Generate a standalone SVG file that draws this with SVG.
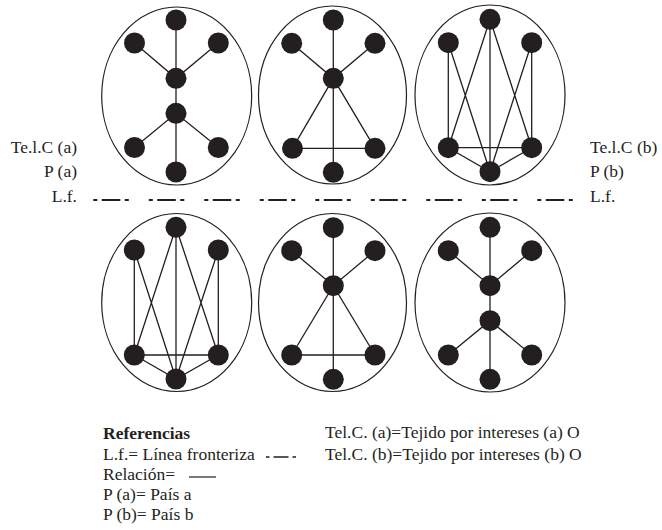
<svg xmlns="http://www.w3.org/2000/svg" width="662" height="530" viewBox="0 0 662 530">
<style>
.bg{fill:#fff}
.ell{fill:none;stroke:#231f20;stroke-width:1.2}
.n{fill:#231f20}
.e{stroke:#231f20;stroke-width:1.3;fill:none}
.lf{stroke:#231f20;stroke-width:2;fill:none;stroke-dasharray:4 4.5 18.5 4.5 4 20}
.t{font-family:"Liberation Serif","Times New Roman",serif;font-size:17.5px;fill:#231f20}
.b{font-weight:bold}
</style>
<defs>
<circle id="dot" r="10.5" class="n"/>
</defs>
<rect class="bg" width="662" height="530"/>

<!-- clusters (ellipses) -->
<g id="cluster-a1"><ellipse class="ell" cx="176.7" cy="96" rx="75" ry="89"/></g>
<g id="cluster-a2"><ellipse class="ell" cx="332.5" cy="95" rx="74" ry="89"/></g>
<g id="cluster-a3"><ellipse class="ell" cx="490" cy="95" rx="75" ry="90"/></g>
<g id="cluster-b1"><ellipse class="ell" cx="176.7" cy="302.5" rx="75" ry="89"/></g>
<g id="cluster-b2"><ellipse class="ell" cx="332.5" cy="302.5" rx="74" ry="89"/></g>
<g id="cluster-b3"><ellipse class="ell" cx="490" cy="302.5" rx="75" ry="89.5"/></g>

<g id="connectors">
<!-- a1 tree -->
<path class="e" d="M176 20V113.3M134.5 43L176 78.3L218.3 43M134.5 147.5L176 113.3L218.3 147.5M176 113.3V172"/>
<!-- a2 -->
<path class="e" d="M333.3 20V172M291.7 43.3L333.3 78.3L375 43.3M292.5 148.3L333.3 78.3L375 148.3M292.5 148.3H375"/>
<!-- a3 -->
<path class="e" d="M448.3 42.7V147.7M531.7 42.7V147.7M490 19.3L448.3 147.7M490 19.3V171.7M490 19.3L531.7 147.7M448.3 42.7L490 171.7M531.7 42.7L490 171.7M448.3 147.7H531.7M448.3 147.7L490 171.7L531.7 147.7"/>
<!-- b1 -->
<path class="e" d="M134.3 250V355M218.3 250V355M176 227.3L134.3 355M176 227.3V379M176 227.3L218.3 355M134.3 250L176 379M218.3 250L176 379M134.3 355H218.3M134.3 355L176 379L218.3 355"/>
<!-- b2 -->
<path class="e" d="M333.3 227.7V379.3M291.7 250.7L333.3 285.7L375 250.7M291.7 355L333.3 285.7L375 355M291.7 355H375"/>
<!-- b3 tree -->
<path class="e" d="M490 227.3V320.7M448.3 250.7L490 285.7L531.7 250.7M448.3 355L490 320.7L531.7 355M490 320.7V379.3"/>
<!-- border line -->
<path class="lf" d="M93.3 200H574"/>
</g>

<g id="nodes-a1">
<use href="#dot" x="176" y="20"/><use href="#dot" x="134.5" y="43"/><use href="#dot" x="218.3" y="43"/>
<use href="#dot" x="176" y="78.3"/><use href="#dot" x="176" y="113.3"/>
<use href="#dot" x="134.5" y="147.5"/><use href="#dot" x="218.3" y="147.5"/><use href="#dot" x="176" y="172"/>
</g>
<g id="nodes-a2">
<use href="#dot" x="333.3" y="20"/><use href="#dot" x="291.7" y="43.3"/><use href="#dot" x="375" y="43.3"/>
<use href="#dot" x="333.3" y="78.3"/>
<use href="#dot" x="292.5" y="148.3"/><use href="#dot" x="375" y="148.3"/><use href="#dot" x="333.3" y="172.3"/>
</g>
<g id="nodes-a3">
<use href="#dot" x="490" y="19.3"/><use href="#dot" x="448.3" y="42.7"/><use href="#dot" x="531.7" y="42.7"/>
<use href="#dot" x="448.3" y="147.7"/><use href="#dot" x="531.7" y="147.7"/><use href="#dot" x="490" y="171.7"/>
</g>
<g id="nodes-b1">
<use href="#dot" x="176" y="227.3"/><use href="#dot" x="134.3" y="250"/><use href="#dot" x="218.3" y="250"/>
<use href="#dot" x="134.3" y="355"/><use href="#dot" x="218.3" y="355"/><use href="#dot" x="176" y="379"/>
</g>
<g id="nodes-b2">
<use href="#dot" x="333.3" y="227.7"/><use href="#dot" x="291.7" y="250.7"/><use href="#dot" x="375" y="250.7"/>
<use href="#dot" x="333.3" y="285.7"/>
<use href="#dot" x="291.7" y="355"/><use href="#dot" x="375" y="355"/><use href="#dot" x="333.3" y="379.3"/>
</g>
<g id="nodes-b3">
<use href="#dot" x="490" y="227.3"/><use href="#dot" x="448.3" y="250.7"/><use href="#dot" x="531.7" y="250.7"/>
<use href="#dot" x="490" y="285.7"/><use href="#dot" x="490" y="320.7"/>
<use href="#dot" x="448.3" y="355"/><use href="#dot" x="531.7" y="355"/><use href="#dot" x="490" y="379.3"/>
</g>

<g id="labels-left" class="t" text-anchor="end">
<text x="77" y="153">Te.l.C (a)</text>
<text x="77" y="177">P (a)</text>
<text x="77" y="202">L.f.</text>
</g>
<g id="labels-right" class="t">
<text x="590" y="153">Te.l.C (b)</text>
<text x="590" y="177">P (b)</text>
<text x="590" y="202">L.f.</text>
</g>

<g id="legend" class="t">
<text class="b" x="103" y="439">Referencias</text>
<text x="103" y="460">L.f.= Línea fronteriza</text>
<path d="M266 457H297" style="stroke:#231f20;stroke-width:1.6;fill:none;stroke-dasharray:3.5 4 15 4 3.5"/>
<text x="103" y="480">Relación=</text>
<path d="M189 477H216" style="stroke:#231f20;stroke-width:1.2;fill:none"/>
<text x="103" y="500">P (a)= País a</text>
<text x="103" y="520">P (b)= País b</text>
<text x="325" y="438">Tel.C. (a)=Tejido por intereses (a) O</text>
<text x="325" y="460">Tel.C. (b)=Tejido por intereses (b) O</text>
</g>
</svg>
